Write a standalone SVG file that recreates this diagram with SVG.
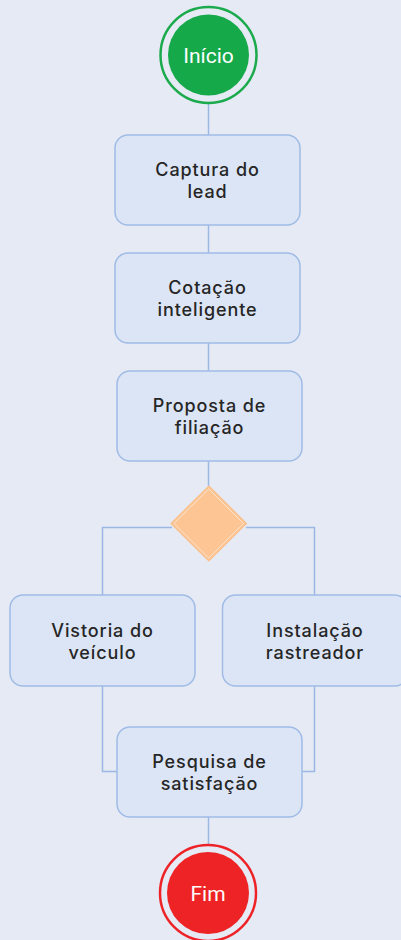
<svg xmlns="http://www.w3.org/2000/svg" width="401" height="940" viewBox="0 0 401 940">
<style>
.bg{fill:#E6EAF5}
.box{fill:#DCE5F5;stroke:#A0BCE6;stroke-width:1.5}
.lbl{font-family:Inter,"DejaVu Sans",sans-serif;font-size:18px;font-weight:500;letter-spacing:0.9px;fill:#262626;text-anchor:middle}
.clbl{font-family:Roboto,"Liberation Sans",sans-serif;font-size:21px;fill:#FFFFFF;text-anchor:middle}
.conn{fill:none;stroke:#9BB8E4;stroke-width:1.5}
</style>
<rect class="bg" x="0" y="0" width="401" height="940"/>
<g id="connectors">
<line class="conn" x1="208.5" y1="103" x2="208.5" y2="135"/>
<line class="conn" x1="208.5" y1="225" x2="208.5" y2="253"/>
<line class="conn" x1="208.5" y1="343" x2="208.5" y2="371"/>
<line class="conn" x1="208.5" y1="461" x2="208.5" y2="486"/>
<polyline class="conn" points="172,527.5 102.5,527.5 102.5,595"/>
<polyline class="conn" points="246,527.5 314.5,527.5 314.5,595"/>
<polyline class="conn" points="102.5,686 102.5,771.5 117,771.5"/>
<polyline class="conn" points="314.5,686 314.5,771.5 302,771.5"/>
<line class="conn" x1="208.5" y1="817" x2="208.5" y2="844"/>
</g>
<g id="start">
<circle cx="208.5" cy="55" r="48" fill="none" stroke="#1BAA4C" stroke-width="2.5"/>
<circle cx="208.5" cy="55" r="40.5" fill="#16A94A"/>
<text class="clbl" x="208.5" y="62.5">Início</text>
</g>
<g id="captura">
<rect class="box" x="115" y="135" width="185" height="90" rx="13"/>
<text class="lbl"><tspan x="207.5" y="176.3">Captura do</tspan><tspan x="207.5" y="198.3">lead</tspan></text>
</g>
<g id="cotacao">
<rect class="box" x="115" y="253" width="185" height="90" rx="13"/>
<text class="lbl"><tspan x="207.5" y="294.3">Cotação</tspan><tspan x="207.5" y="316.3">inteligente</tspan></text>
</g>
<g id="proposta">
<rect class="box" x="117" y="371" width="185" height="90" rx="13"/>
<text class="lbl"><tspan x="209.5" y="412.3">Proposta de</tspan><tspan x="209.5" y="434.3">filiação</tspan></text>
</g>
<g id="decisao">
<polygon points="208.8,486 246.5,523.5 208.8,561 171,523.5" fill="#FDC593" stroke="#F8C18F" stroke-width="1.2"/>
<polygon points="208.8,489 243.5,523.5 208.8,558 174,523.5" fill="#FDC593" stroke="#FCE3CD" stroke-width="1"/>
</g>
<g id="vistoria">
<rect class="box" x="10" y="595" width="185" height="91" rx="13"/>
<text class="lbl"><tspan x="102.5" y="636.8">Vistoria do</tspan><tspan x="102.5" y="658.8">veículo</tspan></text>
</g>
<g id="instalacao">
<rect class="box" x="222.5" y="595" width="185" height="91" rx="13"/>
<text class="lbl"><tspan x="315" y="636.8">Instalação</tspan><tspan x="315" y="658.8">rastreador</tspan></text>
</g>
<g id="pesquisa">
<rect class="box" x="117" y="727" width="185" height="90" rx="13"/>
<text class="lbl"><tspan x="209.5" y="768.3">Pesquisa de</tspan><tspan x="209.5" y="790.3">satisfação</tspan></text>
</g>
<g id="fim">
<circle cx="208" cy="893" r="48" fill="none" stroke="#EE2328" stroke-width="2.5"/>
<circle cx="208" cy="893" r="41" fill="#EE2326"/>
<text class="clbl" x="208" y="900.5">Fim</text>
</g>
</svg>
